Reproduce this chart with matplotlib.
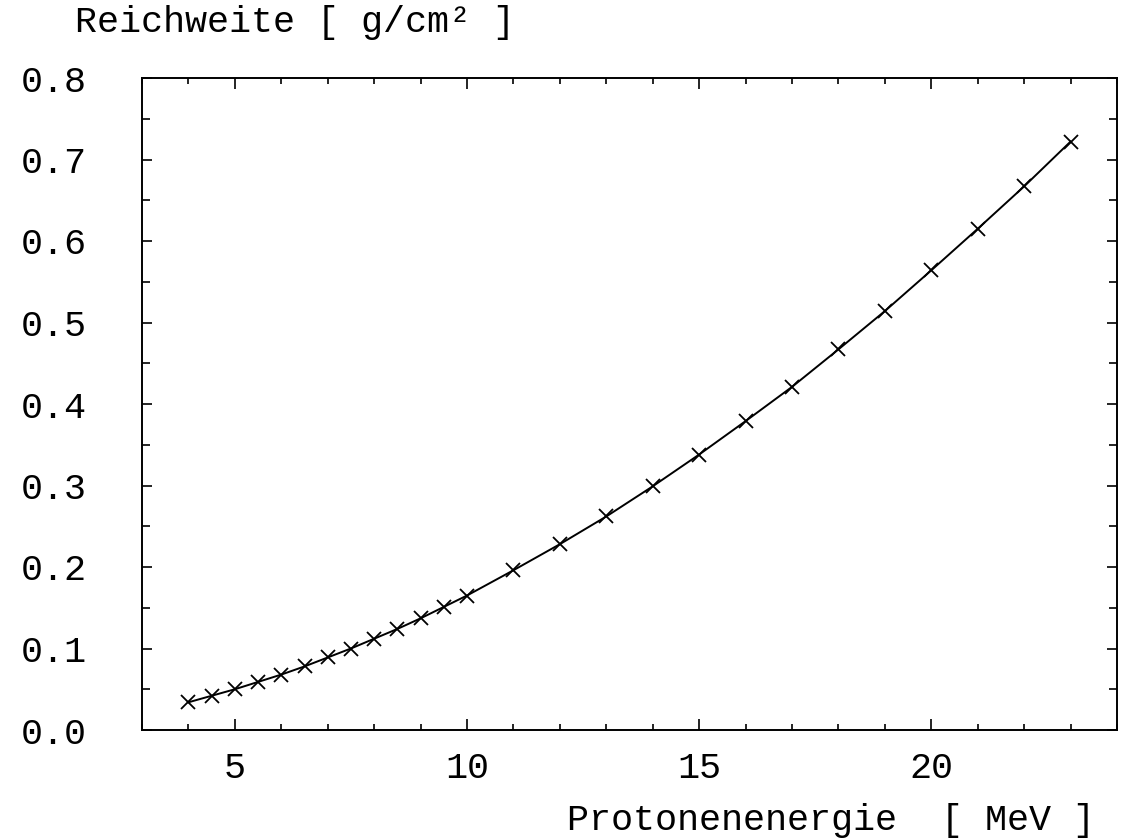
import numpy as np
import matplotlib.pyplot as plt
from matplotlib.ticker import MultipleLocator, FixedLocator, FixedFormatter

# proton energy [MeV] and range [g/cm^2]
energie = [4, 4.5, 5, 5.5, 6, 6.5, 7, 7.5, 8, 8.5, 9, 9.5, 10,
           11, 12, 13, 14, 15, 16, 17, 18, 19, 20, 21, 22, 23]
reichweite = [0.034, 0.042, 0.050, 0.059, 0.068, 0.078, 0.089, 0.100, 0.112,
              0.124, 0.137, 0.151, 0.165, 0.196, 0.228, 0.262, 0.299, 0.338,
              0.379, 0.421, 0.467, 0.514, 0.564, 0.615, 0.667, 0.722]

x_ticks = [5, 10, 15, 20]
y_ticks = [0.0, 0.1, 0.2, 0.3, 0.4, 0.5, 0.6, 0.7, 0.8]
y_labels = ['0.0', '0.1', '0.2', '0.3', '0.4', '0.5', '0.6', '0.7', '0.8']

plt.rcParams['font.family'] = ['Liberation Mono', 'DejaVu Sans Mono']
FS = 26.5

W, H = 1121, 840
fig = plt.figure(figsize=(W / 100, H / 100), dpi=100)
ax = fig.add_axes([142 / W, 1 - 730 / H, 975 / W, 652 / H])

ax.plot(energie, reichweite, '-', color='black', linewidth=1.4,
        marker='x', markersize=10, markeredgewidth=1.3)

ax.set_xlim(3, 24)
ax.set_ylim(0.0, 0.8)

ax.xaxis.set_major_locator(FixedLocator(x_ticks))
ax.xaxis.set_minor_locator(MultipleLocator(1))
ax.yaxis.set_major_locator(FixedLocator(y_ticks))
ax.yaxis.set_major_formatter(FixedFormatter(y_labels))
ax.yaxis.set_minor_locator(MultipleLocator(0.05))

for s in ax.spines.values():
    s.set_linewidth(1.4)

ax.tick_params(which='both', direction='in', top=True, right=True,
               width=1.2, labelsize=FS)
ax.tick_params(axis='x', which='major', length=8, pad=15)
ax.tick_params(axis='x', which='minor', length=4.5)
ax.tick_params(axis='y', which='major', length=7, pad=40)
ax.tick_params(axis='y', which='minor', length=6)

fig.text(75 / W, 1 - 22 / H, 'Reichweite [ g/cm² ]', ha='left', va='center',
         fontsize=FS)
fig.text(567 / W, 1 - 820 / H, 'Protonenenergie  [ MeV ]', ha='left',
         va='center', fontsize=FS)

fig.savefig('out.png', dpi=100, facecolor='white')
